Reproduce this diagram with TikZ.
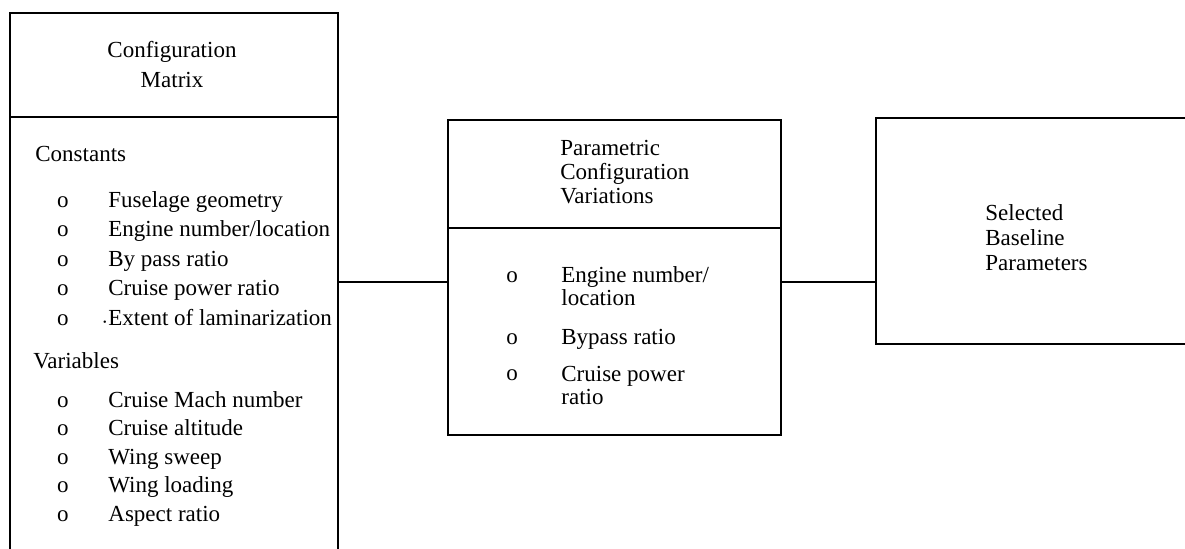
\documentclass[tikz,border=0pt]{standalone}
\usepackage{fontspec}
\setmainfont{Liberation Serif}
\begin{document}
\begin{tikzpicture}[x=0.5pt,y=-0.5pt,
    box/.style={draw, line width=1.2pt, inner sep=0pt},
    link/.style={line width=1.2pt},
    item/.style={anchor=base west, inner sep=0pt, align=left, font=\fontsize{11.5}{11.5}\selectfont},
    bullet/.style={anchor=base, inner sep=0pt, font=\fontsize{11.5}{11.5}\selectfont}]

    \useasboundingbox (0,0) rectangle (1185,548);
    \clip (0,0) rectangle (1185,548);

    % boxes (the left and right ones run off the page)
    \node[box, minimum width=164pt, minimum height=52pt] (cfghead) at (174,65) {};
    \node[box, minimum width=164pt, minimum height=221.5pt] (cfgbody) at (174,338.5) {};
    \node[box, minimum width=166.5pt, minimum height=54pt] (parhead) at (614.5,174) {};
    \node[box, minimum width=166.5pt, minimum height=103.5pt] (parbody) at (614.5,331.5) {};
    \node[box, minimum width=162pt, minimum height=113pt] (sel) at (1038,231) {};

    \draw[link] (cfgbody.east |- 0,282) -- (parbody.west |- 0,282);
    \draw[link] (parbody.east |- 0,282) -- (sel.west |- 0,282);

    % configuration matrix
    \node[inner sep=0pt, align=center, font=\fontsize{11.5}{15}\selectfont] (cfgname) at (172,65) {Configuration\\Matrix};

    \node[item] (const) at (35,161) {Constants};
    \foreach \t [count=\i] in {Fuselage geometry, Engine number/location, By pass ratio, Cruise power ratio,
        {\llap{\tiny\textbullet\,}Extent of laminarization}} {
        \node[bullet] (co\i) at (63,{207+29.5*(\i-1)}) {o};
        \node[item] (c\i) at (108,{207+29.5*(\i-1)}) {\t};
    }

    \node[item] (vars) at (33,368) {Variables};
    \foreach \t [count=\i] in {Cruise Mach number, Cruise altitude, Wing sweep, Wing loading, Aspect ratio} {
        \node[bullet] (vo\i) at (63,{407+28.5*(\i-1)}) {o};
        \node[item] (v\i) at (108,{407+28.5*(\i-1)}) {\t};
    }

    % parametric variations (base = last line)
    \node[item, font=\fontsize{11.5}{12}\selectfont] (parname) at (560,203) {Parametric\\Configuration\\Variations};

    \node[bullet] (po1) at (512,282) {o};
    \node[item] (p1) at (561,305) {Engine number/\\location};
    \node[bullet] (po2) at (512,344) {o};
    \node[item] (p2) at (561,344) {Bypass ratio};
    \node[bullet] (po3) at (512,380) {o};
    \node[item] (p3) at (561,404) {Cruise power\\ratio};

    % baseline
    \node[item, font=\fontsize{11.5}{12.5}\selectfont] (selname) at (985,270) {Selected\\Baseline\\Parameters};

\end{tikzpicture}
\end{document}
